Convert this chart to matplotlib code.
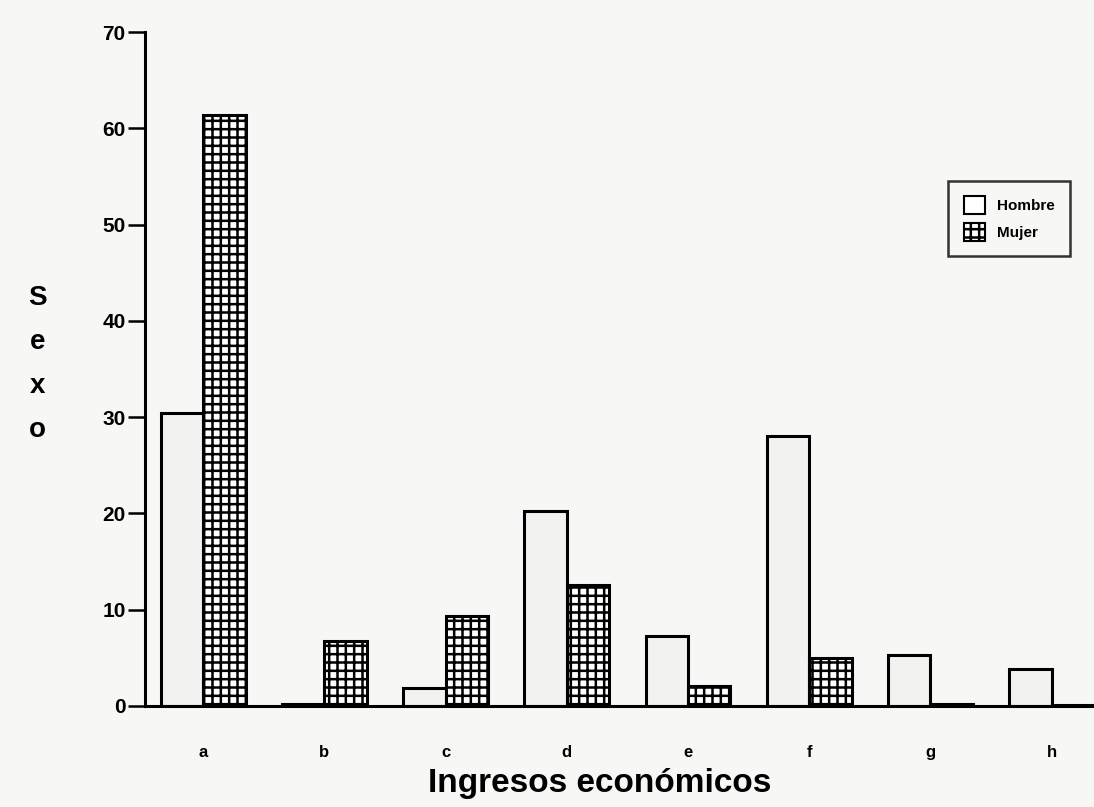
import matplotlib
matplotlib.use("Agg")
import matplotlib.pyplot as plt
import numpy as np
from matplotlib.patches import Patch

categories = ["a", "b", "c", "d", "e", "f", "g", "h"]
hombre = [30.4, 0.2, 1.9, 20.2, 7.3, 28.0, 5.3, 3.8]
mujer = [61.4, 6.75, 9.35, 12.6, 2.1, 5.0, 0.2, 0.1]
yticks = [0, 10, 20, 30, 40, 50, 60, 70]

fam = ["Liberation Sans Narrow", "Liberation Sans", "DejaVu Sans"]
plt.rcParams["font.family"] = fam
plt.rcParams["hatch.linewidth"] = 1.8

bg = "#f7f7f5"
fig = plt.figure(figsize=(10.94, 8.07), dpi=100, facecolor=bg)
ax = fig.add_axes([0.1325, 0.1252, 0.8675, 0.8351])
ax.set_facecolor(bg)

x = np.arange(len(categories))
w = 0.35
ax.bar(x - w / 2, hombre, width=w, facecolor="#f2f2f0", edgecolor="black", linewidth=2.2)
ax.bar(x + w / 2, mujer, width=w, facecolor="white", edgecolor="black", linewidth=2.2, hatch="++")

ax.set_xlim(-0.48, 7.35)
ax.set_ylim(0, 70)
ax.set_yticks(yticks)
ax.set_yticklabels([str(t) for t in yticks], fontsize=15, fontweight="bold")
ax.set_xticks(x)
ax.set_xticklabels(categories, fontsize=12, fontweight="bold")
ax.tick_params(axis="x", length=0, pad=28)
ax.tick_params(axis="y", length=12, width=1.8, pad=2)

for s in ["top", "right"]:
    ax.spines[s].set_visible(False)
ax.spines["left"].set_linewidth(2.2)
ax.spines["bottom"].set_linewidth(2.2)

ax.set_xlabel("Ingresos económicos", fontsize=24, fontweight="bold")
ax.xaxis.set_label_coords(0.479, -0.092)
fig.text(0.034, 0.549, "S\ne\nx\no", fontsize=20, fontweight="bold", ha="center", va="center",
         linespacing=1.9)

handles = [Patch(facecolor="white", edgecolor="black", linewidth=1.5, label="Hombre"),
           Patch(facecolor="white", edgecolor="black", linewidth=1.5, hatch="++", label="Mujer")]
leg = ax.legend(handles=handles, loc="upper right", bbox_to_anchor=(0.983, 0.79),
                fontsize=11, frameon=True, fancybox=False, edgecolor="black",
                handlelength=1.4, handleheight=1.4, borderpad=1.0, labelspacing=0.6,
                handletextpad=0.8)
leg.get_frame().set_linewidth(1.8)
leg.get_frame().set_facecolor(bg)
for t in leg.get_texts():
    t.set_fontweight("bold")

fig.savefig("out.png", dpi=100, facecolor=bg)
